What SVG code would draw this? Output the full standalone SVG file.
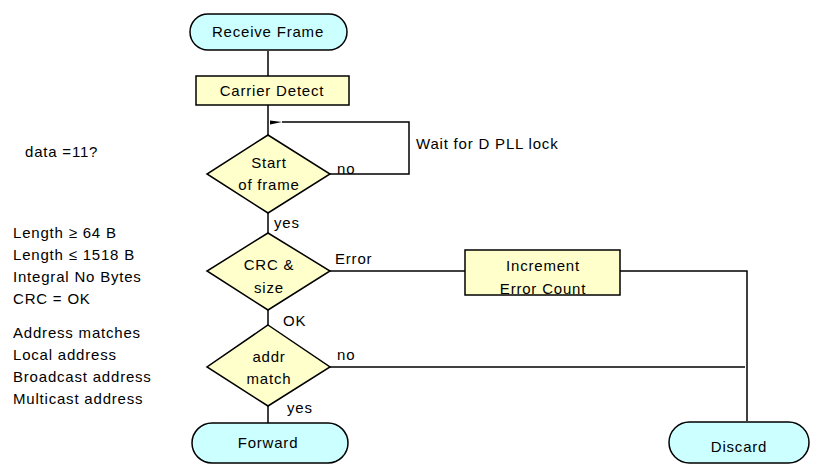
<svg xmlns="http://www.w3.org/2000/svg" width="817" height="465" viewBox="0 0 817 465">
<style>
.term{fill:#CCFFFF;stroke:#000;stroke-width:1.5}
.proc{fill:#FFFFCC;stroke:#000;stroke-width:1.5}
.conn{fill:none;stroke:#000;stroke-width:1.5}
text{font-family:"Liberation Sans",Arial,sans-serif;font-size:15px;fill:#000;letter-spacing:0.8px}
.c{text-anchor:middle}
</style>
<defs>
<marker id="arr" markerWidth="14" markerHeight="8" refX="1" refY="4" orient="auto" markerUnits="userSpaceOnUse">
<path d="M1,4 L13,1.5 L13,5.5 Z" fill="#000"/>
</marker>
</defs>
<rect width="817" height="465" fill="#fff"/>
<g id="connectors">
<line class="conn" x1="268" y1="51" x2="268" y2="76"/>
<line class="conn" x1="268" y1="105" x2="268" y2="135"/>
<path class="conn" d="M330,174 H409 V122 H282" marker-end="url(#arr)"/>
<line class="conn" x1="268" y1="213" x2="268" y2="233"/>
<line class="conn" x1="330" y1="271" x2="465" y2="271"/>
<path class="conn" d="M620,271 H747 V421"/>
<line class="conn" x1="268" y1="310" x2="268" y2="325"/>
<line class="conn" x1="330" y1="367" x2="745" y2="367"/>
<line class="conn" x1="268" y1="406" x2="268" y2="423"/>
</g>
<g id="receive-frame">
<rect class="term" x="190" y="14" width="157" height="36" rx="18"/>
<text class="c" x="268" y="37">Receive  Frame</text>
</g>
<g id="carrier-detect">
<rect class="proc" x="196" y="76" width="153" height="29"/>
<text class="c" x="272" y="96">Carrier Detect</text>
</g>
<g id="start-of-frame">
<polygon class="proc" points="268,135 330,174 268,213 207,174"/>
<text class="c" x="269" y="168">Start</text>
<text class="c" x="269" y="190">of frame</text>
</g>
<g id="crc-size">
<polygon class="proc" points="268,233 330,271 268,310 207,271"/>
<text class="c" x="269" y="270">CRC &amp;</text>
<text class="c" x="269" y="293">size</text>
</g>
<g id="increment-error-count">
<rect class="proc" x="465" y="250" width="155" height="45"/>
<text class="c" x="543" y="271">Increment</text>
<text class="c" x="543" y="294">Error Count</text>
</g>
<g id="addr-match">
<polygon class="proc" points="268,325 330,367 268,406 207,367"/>
<text class="c" x="269" y="362">addr</text>
<text class="c" x="269" y="384">match</text>
</g>
<g id="forward">
<rect class="term" x="192" y="423" width="156" height="40" rx="20"/>
<text class="c" x="268" y="448">Forward</text>
</g>
<g id="discard">
<rect class="term" x="669" y="422" width="140" height="41" rx="20.5"/>
<text class="c" x="739" y="452">Discard</text>
</g>
<g id="labels">
<text x="337" y="174">no</text>
<text x="416" y="149">Wait for D PLL lock</text>
<text x="274" y="228">yes</text>
<text x="335" y="264">Error</text>
<text x="283" y="326">OK</text>
<text x="337" y="360">no</text>
<text x="287" y="413">yes</text>
<text x="25" y="157">data =11?</text>
<text x="13" y="238">Length ≥ 64 B</text>
<text x="13" y="260">Length ≤ 1518 B</text>
<text x="13" y="282">Integral No Bytes</text>
<text x="13" y="304">CRC = OK</text>
<text x="13" y="338">Address matches</text>
<text x="13" y="360">Local address</text>
<text x="13" y="382">Broadcast address</text>
<text x="13" y="404">Multicast address</text>
</g>
</svg>
